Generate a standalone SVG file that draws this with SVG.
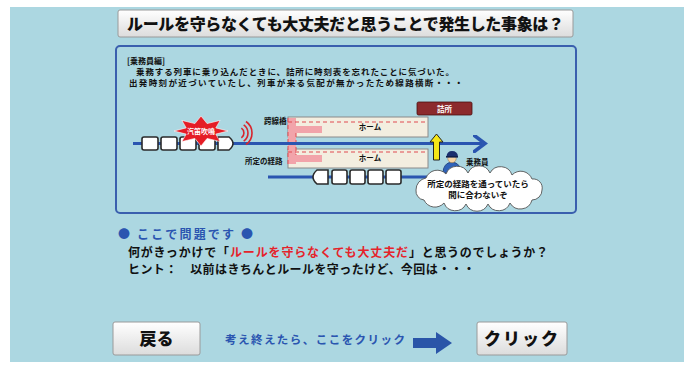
<svg xmlns="http://www.w3.org/2000/svg" width="685" height="365" viewBox="0 0 685 365">
  <defs>
    <linearGradient id="btnGrad" x1="0" y1="0" x2="0" y2="1">
      <stop offset="0" stop-color="#ffffff"/>
      <stop offset="1" stop-color="#dcdcdc"/>
    </linearGradient>
    <marker id="trackHead" markerWidth="6" markerHeight="6" refX="3" refY="3" orient="auto" markerUnits="strokeWidth">
      <path d="M0,0 L4,3 L0,6" fill="none" stroke="#2a55b0" stroke-width="1.2"/>
    </marker>
    <style>
      .jp { font-family: "Noto Sans CJK JP", "Noto Sans", sans-serif; font-weight: 700; }
      .heavy { font-weight: 900; }
      .btn { fill: url(#btnGrad); stroke: #9a9a9a; stroke-width: 1; }
      .car { fill: #ffffff; stroke: #2a2a2a; stroke-width: 1.6; }
      .track { stroke: #2a55b0; stroke-width: 3; fill: none; }
      .platform { fill: #f3eee0; stroke: #8a8a8a; stroke-width: 1; }
      .dash { stroke: #e04a50; stroke-width: 1; stroke-dasharray: 4 3; fill: none; }
      .bridge { fill: #f2a4aa; }
      .label { font-size: 7.5px; fill: #111; }
    </style>
  </defs>

  <!-- page background -->
  <rect x="0" y="0" width="685" height="365" fill="#ffffff"/>
  <rect x="10" y="7" width="674" height="355" fill="#acd7e1"/>

  <!-- title bar -->
  <g id="title">
    <rect x="118" y="10" width="455" height="27" rx="2" class="btn"/>
    <text x="127" y="30" class="jp heavy" font-size="16" fill="#111" textLength="437" lengthAdjust="spacing">ルールを守らなくても大丈夫だと思うことで発生した事象は？</text>
  </g>

  <!-- scenario panel -->
  <g id="panel">
    <rect x="116" y="46" width="460" height="167" rx="4" fill="#acd7e1" stroke="#3a5fae" stroke-width="2"/>
    <text x="127" y="64" class="jp" font-size="8" fill="#111">[乗務員編]</text>
    <text x="136" y="75" class="jp" font-size="8.5" fill="#111" textLength="318" lengthAdjust="spacing">乗務する列車に乗り込んだときに、詰所に時刻表を忘れたことに気づいた。</text>
    <text x="129" y="86" class="jp" font-size="8.5" fill="#111" textLength="334" lengthAdjust="spacing">出発時刻が近づいていたし、列車が来る気配が無かったため線路横断・・・</text>
  </g>

  <!-- platforms and crossing bridge -->
  <g id="platform-upper">
    <rect x="288" y="117" width="140" height="20" class="platform"/>
    <text x="370" y="130" class="jp label" text-anchor="middle">ホーム</text>
  </g>
  <g id="platform-lower">
    <rect x="288" y="149" width="140" height="19" class="platform"/>
    <text x="370" y="161" class="jp label" text-anchor="middle">ホーム</text>
  </g>
  <g id="bridge">
    <rect x="288" y="118" width="8" height="46" class="bridge"/>
    <rect x="296" y="126" width="26" height="7" class="bridge"/>
    <rect x="296" y="155" width="26" height="7" class="bridge"/>
    <path d="M288,118 V164" class="dash"/>
    <path d="M296,133 V155" class="dash"/>
    <path d="M288,122 H428" class="dash"/>
    <path d="M288,152 H428" class="dash"/>
    <text x="264" y="124" class="jp label">跨線橋</text>
    <text x="245" y="164" class="jp label">所定の経路</text>
  </g>

  <!-- connectors: tracks -->
  <g id="connectors">
    <path d="M133,143.5 H482" class="track" marker-end="url(#trackHead)"/>
    <path d="M268,177 H463" class="track"/>
  </g>

  <!-- outbound train, upper track -->
  <g id="train-upper">
    <rect x="142" y="137" width="16" height="13" rx="2" class="car"/>
    <rect x="161" y="137" width="16" height="13" rx="2" class="car"/>
    <rect x="180" y="137" width="16" height="13" rx="2" class="car"/>
    <rect x="199" y="137" width="16" height="13" rx="2" class="car"/>
    <path d="M218,137 H229 Q237,143.5 229,150 H218 Z" class="car"/>
  </g>

  <!-- horn blast -->
  <g id="horn">
    <polygon points="228,131 215.8,134.1 220.1,141.6 207.1,138.4 201,146 194.9,138.4 181.9,141.6 186.2,134.1 174,131 186.2,127.9 181.9,120.4 194.9,123.6 201,116 207.1,123.6 220.1,120.4 215.8,127.9" fill="#e51d25" stroke="#ffffff" stroke-width="0.6"/>
    <text x="201" y="134" class="jp" font-size="7" fill="#ffffff" text-anchor="middle">汽笛吹鳴</text>
    <g fill="none" stroke="#d8252d" stroke-width="1.6">
      <path d="M241.4,128.1 A6,6 0 0 1 241.4,137.9"/>
      <path d="M243.7,124.8 A10,10 0 0 1 243.7,141.2"/>
      <path d="M246,121.5 A14,14 0 0 1 246,144.5"/>
    </g>
  </g>

  <!-- inbound train, lower track -->
  <g id="train-lower">
    <path d="M328,170 H317 Q309,177 317,184 H328 Z" class="car"/>
    <rect x="332" y="170" width="15" height="14" rx="2" class="car"/>
    <rect x="350" y="170" width="15" height="14" rx="2" class="car"/>
    <rect x="368" y="170" width="15" height="14" rx="2" class="car"/>
    <rect x="386" y="170" width="15" height="14" rx="2" class="car"/>
  </g>

  <!-- crew room -->
  <g id="crew-room">
    <rect x="417" y="102" width="55" height="13" rx="1.5" fill="#8c2a2c" stroke="#4a1010" stroke-width="0.8"/>
    <text x="444.5" y="111.5" class="jp" font-size="7.5" fill="#ffffff" text-anchor="middle">詰所</text>
  </g>

  <!-- crossing direction -->
  <g id="cross-arrow">
    <polygon points="436.5,134 443,142 439.5,142 439.5,160 433.5,160 433.5,142 430,142" fill="#f5e617" stroke="#222" stroke-width="1"/>
  </g>

  <!-- crew member -->
  <g id="crew">
    <path d="M443,173 Q443,163 452,162 Q461,163 461,173 Z" fill="#2f62b8" stroke="#1c3b78" stroke-width="0.8"/>
    <circle cx="452" cy="158.5" r="4.2" fill="#f6d3a4" stroke="#8a6a40" stroke-width="0.5"/>
    <path d="M446.5,156.5 Q447,151 452,151 Q457.5,151 458,156.5 Z" fill="#1b2f6e"/>
    <rect x="446" y="156" width="12" height="1.6" fill="#12204d"/>
    <text x="466" y="165" class="jp label">乗務員</text>
  </g>

  <!-- thought bubble -->
  <g id="bubble">
    <circle cx="463" cy="170.5" r="1.6" fill="#ffffff" stroke="#555" stroke-width="0.6"/>
    <path d="M416,190 A12,12 0 0 1 426,178 A12,12 0 0 1 446,174 A12,12 0 0 1 468,173 A12,12 0 0 1 490,173 A12,12 0 0 1 512,175 A12,12 0 0 1 532,179 A9,9 0 0 1 542,190 A10,10 0 0 1 532,200 A12,12 0 0 1 510,203 A12,12 0 0 1 488,204 A12,12 0 0 1 466,204 A12,12 0 0 1 444,203 A12,12 0 0 1 424,200 A9,9 0 0 1 416,190 Z" fill="#ffffff" stroke="#555" stroke-width="0.9"/>
    <text x="478" y="187" class="jp" font-size="8.5" fill="#111" text-anchor="middle">所定の経路を通っていたら</text>
    <text x="478" y="198" class="jp" font-size="8.5" fill="#111" text-anchor="middle">間に合わないぞ</text>
  </g>

  <!-- question -->
  <g id="question">
    <text x="118" y="239" class="jp" font-size="12" fill="#2a55b0" textLength="135" lengthAdjust="spacing">● ここで問題です ●</text>
    <text x="128" y="257" class="jp" font-size="12" fill="#111" textLength="101" lengthAdjust="spacing">何がきっかけで「</text>
    <text x="230" y="257" class="jp" font-size="12" fill="#e5232b" textLength="178" lengthAdjust="spacing">ルールを守らなくても大丈夫だ</text>
    <text x="409" y="257" class="jp" font-size="12" fill="#111" textLength="139" lengthAdjust="spacing">」と思うのでしょうか？</text>
    <text x="128" y="274" class="jp" font-size="12" fill="#111" textLength="347" lengthAdjust="spacing">ヒント：　以前はきちんとルールを守ったけど、今回は・・・</text>
  </g>

  <!-- navigation -->
  <g id="back-button">
    <rect x="113" y="322" width="87" height="33" rx="2" class="btn"/>
    <text x="156.5" y="345" class="jp heavy" font-size="17" fill="#111" text-anchor="middle">戻る</text>
  </g>
  <g id="hint-text">
    <text x="225" y="344" class="jp" font-size="11.5" fill="#2a55b0" textLength="180" lengthAdjust="spacing">考え終えたら、ここをクリック</text>
    <polygon points="413,338 436,338 436,332 452,343 436,354 436,348 413,348" fill="#2a55a8"/>
  </g>
  <g id="click-button">
    <rect x="477" y="322" width="90" height="33" rx="2" class="btn"/>
    <text x="522" y="345" class="jp heavy" font-size="17" fill="#111" text-anchor="middle" letter-spacing="2">クリック</text>
  </g>
</svg>
